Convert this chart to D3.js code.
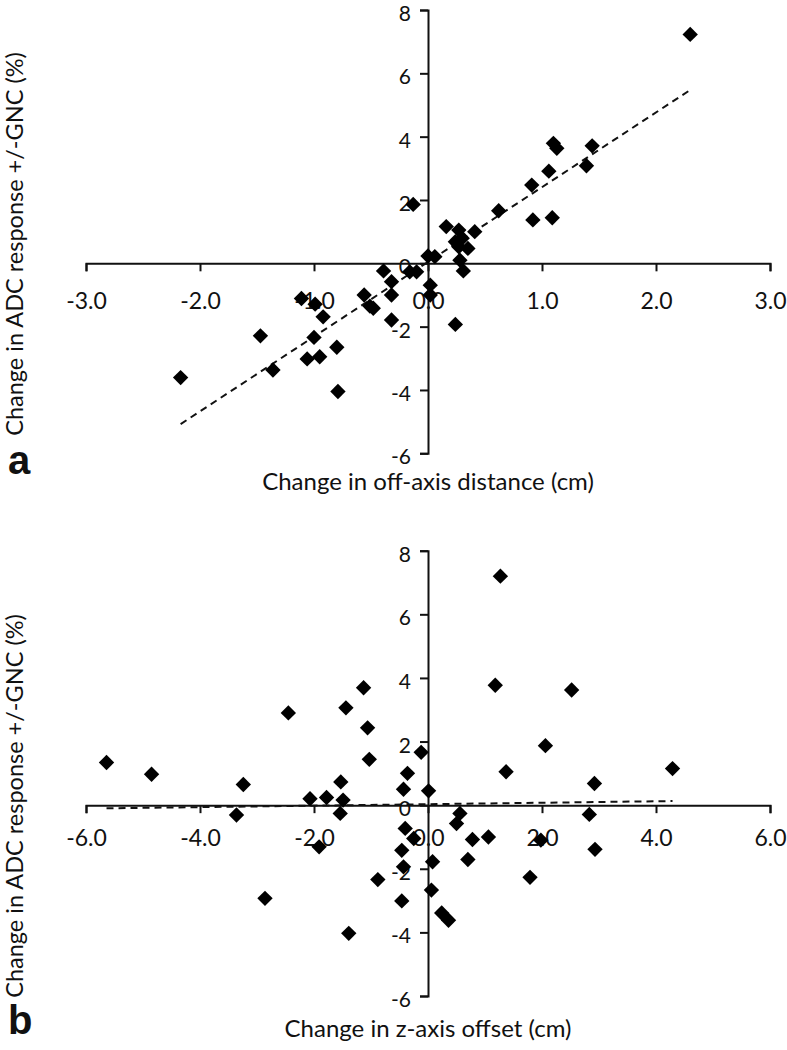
<!DOCTYPE html>
<html>
<head>
<meta charset="utf-8">
<script src="https://cdn.jsdelivr.net/npm/d3@7"></script>
<style>
  body { margin: 0; background: #fff; }
  text { font-family: Lato, "Open Sans", sans-serif; fill: #111; }
</style>
</head>
<body>
<div id="chart"></div>
<script>
// panel a: change in off-axis distance (cm) vs change in ADC response (%)
const offAxisX = [2.30, 1.10, 1.13, 1.44, 1.39, 1.06, 0.91, 0.62, 0.92, 1.09,
  -0.13, 0.16, 0.27, 0.41, 0.24, 0.30, 0.35, 0.27, 0.00, 0.06,
  0.28, 0.31, 0.24, 0.02, 0.02, -0.39, -0.16, -0.10, -0.32, -0.32,
  -0.32, -0.56, -0.51, -0.48, -1.11, -0.99, -0.92, -1.00, -0.80, -1.47,
  -1.06, -0.95, -1.36, -0.79, -2.17];
const offAxisY = [7.23, 3.79, 3.63, 3.71, 3.08, 2.91, 2.47, 1.66, 1.37, 1.44,
  1.86, 1.16, 1.05, 1.00, 0.68, 0.79, 0.47, 0.52, 0.23, 0.21,
  0.10, -0.24, -1.93, -0.69, -1.00, -0.24, -0.27, -0.27, -0.58, -1.00,
  -1.79, -1.00, -1.35, -1.42, -1.11, -1.29, -1.69, -2.34, -2.65, -2.29,
  -3.02, -2.95, -3.37, -4.05, -3.61];

// panel b: change in z-axis offset (cm) vs change in ADC response (%)
const zOffsetX = [-5.64, -4.85, -3.24, -2.45, -1.44, -1.13, -1.06, -1.03, -1.53, -2.07,
  -1.78, -1.49, -1.54, -3.36, -1.91, -2.86, -1.39, -0.88, 1.27, 1.18,
  2.52, 2.06, 1.37, 4.29, 2.92, -0.12, -0.36, -0.43, 0.01, 0.56,
  0.50, 2.83, 2.93, -0.40, -0.25, -0.46, -0.43, -0.46, 0.08, 0.06,
  0.24, 0.36, 0.78, 1.06, 0.70, 1.98, 1.79];
const zOffsetY = [1.34, 0.97, 0.65, 2.90, 3.06, 3.69, 2.43, 1.44, 0.73, 0.20,
  0.24, 0.16, -0.26, -0.31, -1.31, -2.93, -4.03, -2.34, 7.20, 3.77,
  3.62, 1.87, 1.05, 1.15, 0.68, 1.66, 1.00, 0.50, 0.45, -0.26,
  -0.58, -0.29, -1.39, -0.73, -1.05, -1.42, -1.94, -3.01, -1.78, -2.67,
  -3.39, -3.62, -1.08, -1.00, -1.71, -1.10, -2.27];

// linear trend lines [slope, intercept]
const trendA = [2.36, 0.045];
const trendB = [0.023, 0.03];

const yTicks = [-6, -4, -2, 0, 2, 4, 6, 8];
const xTicksA = [-3, -2, -1, 0, 1, 2, 3];
const xTicksB = [-6, -4, -2, 0, 2, 4, 6];

const yLabel = "Change in ADC response +/-GNC (%)";

const width = 787;
const height = 1050;

// plain hyphen for negatives, like the original
const fmtX = d => d3.format(".1f")(d).replace("\u2212", "-");
const fmtY = d => d3.format("d")(d).replace("\u2212", "-");

const svg = d3.select("#chart")
  .append("svg")
  .attr("width", width)
  .attr("height", height)
  .style("display", "block");

const panels = [
  {
    letter: "a", xs: offAxisX, ys: offAxisY, trend: trendA,
    xDomain: [-3, 3], xTicks: xTicksA,
    top: 10, bottom: 453.3,
    xLabel: "Change in off-axis distance (cm)", xLabelY: 490,
    yLabelMid: 244, tickLabelDy: 38, letterY: 474
  },
  {
    letter: "b", xs: zOffsetX, ys: zOffsetY, trend: trendB,
    xDomain: [-6, 6], xTicks: xTicksB,
    top: 550.7, bottom: 996,
    xLabel: "Change in z-axis offset (cm)", xLabelY: 1037,
    yLabelMid: 806, tickLabelDy: 33, letterY: 1034
  }
];

panels.forEach(p => {
  const x = d3.scaleLinear().domain(p.xDomain).range([86, 770]);
  const y = d3.scaleLinear().domain([-6, 8]).range([p.bottom, p.top]);
  const g = svg.append("g");

  // x axis through y = 0
  const gx = g.append("g")
    .attr("transform", `translate(0,${y(0)})`)
    .call(d3.axisBottom(x).tickValues(p.xTicks).tickFormat(fmtX)
      .tickSizeInner(8).tickSizeOuter(8));
  gx.select(".domain").attr("stroke", "#111").attr("stroke-width", 2);
  gx.selectAll(".tick line").attr("stroke", "#111").attr("stroke-width", 2);
  gx.selectAll(".tick text")
    .attr("y", p.tickLabelDy)
    .attr("dy", "0.35em")
    .style("font-size", "23px");

  // y axis through x = 0
  const gy = g.append("g")
    .attr("transform", `translate(${x(0)},0)`)
    .call(d3.axisLeft(y).tickValues(yTicks).tickFormat(fmtY)
      .tickSizeInner(8).tickSizeOuter(8));
  gy.select(".domain").attr("stroke", "#111").attr("stroke-width", 2);
  gy.selectAll(".tick line").attr("stroke", "#111").attr("stroke-width", 2);
  gy.selectAll(".tick text")
    .attr("x", -17)
    .attr("dy", "0.5em")
    .style("font-size", "21px");

  // dashed trend line over the data range
  const ext = d3.extent(p.xs);
  const line = d3.line().x(d => x(d)).y(d => y(p.trend[0] * d + p.trend[1]));
  g.append("path")
    .datum(ext)
    .attr("d", line)
    .attr("fill", "none")
    .attr("stroke", "#111")
    .attr("stroke-width", 2)
    .attr("stroke-dasharray", "7,5");

  // diamond markers
  const diamond = d3.symbol(d3.symbolSquare, 118);
  g.append("g")
    .selectAll("path")
    .data(d3.range(p.xs.length))
    .join("path")
    .attr("transform", i => `translate(${x(p.xs[i])},${y(p.ys[i])}) rotate(45)`)
    .attr("d", diamond)
    .attr("fill", "#000");

  // axis titles
  g.append("text")
    .attr("x", 428)
    .attr("y", p.xLabelY)
    .attr("text-anchor", "middle")
    .style("font-size", "24px")
    .text(p.xLabel);

  g.append("text")
    .attr("transform", `translate(23,${p.yLabelMid}) rotate(-90)`)
    .attr("text-anchor", "middle")
    .style("font-size", "23.5px")
    .text(yLabel);

  g.append("text")
    .attr("x", 8)
    .attr("y", p.letterY)
    .style("font-family", "'Liberation Sans', Arial, sans-serif")
    .style("font-weight", "bold")
    .style("font-size", "40px")
    .text(p.letter);
});
</script>
</body>
</html>
